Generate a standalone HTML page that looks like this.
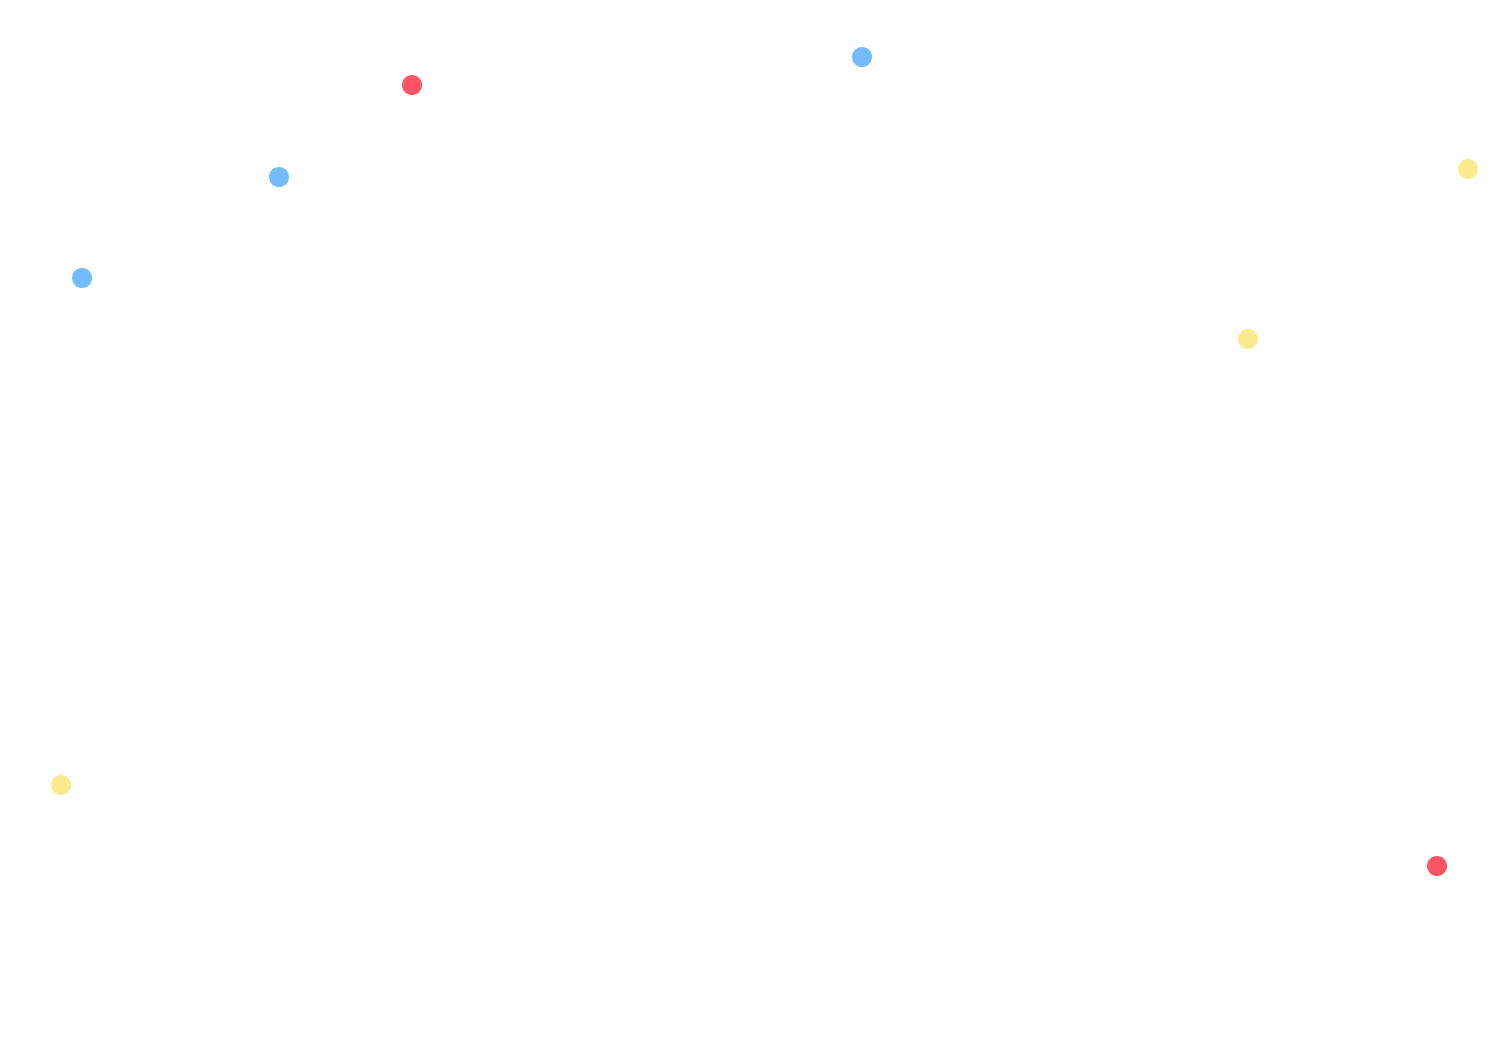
<!DOCTYPE html>
<html><head><meta charset="utf-8"><style>html,body{margin:0;padding:0;background:#fff;width:1500px;height:1050px;overflow:hidden}</style></head>
<body>
<svg width="1500" height="1050" xmlns="http://www.w3.org/2000/svg">
<rect width="1500" height="1050" fill="#fff"/>
<circle cx="412" cy="85" r="10" fill="#ff5464"/>
<circle cx="862" cy="57" r="10" fill="#74bbfb"/>
<circle cx="279" cy="177" r="10" fill="#74bbfb"/>
<circle cx="82" cy="278" r="10" fill="#74bbfb"/>
<circle cx="1468" cy="169" r="10" fill="#fdea8f"/>
<circle cx="1248" cy="339" r="10" fill="#fdea8f"/>
<circle cx="61" cy="785" r="10" fill="#fdea8f"/>
<circle cx="1437" cy="866" r="10" fill="#ff5464"/>
</svg>
</body></html>
